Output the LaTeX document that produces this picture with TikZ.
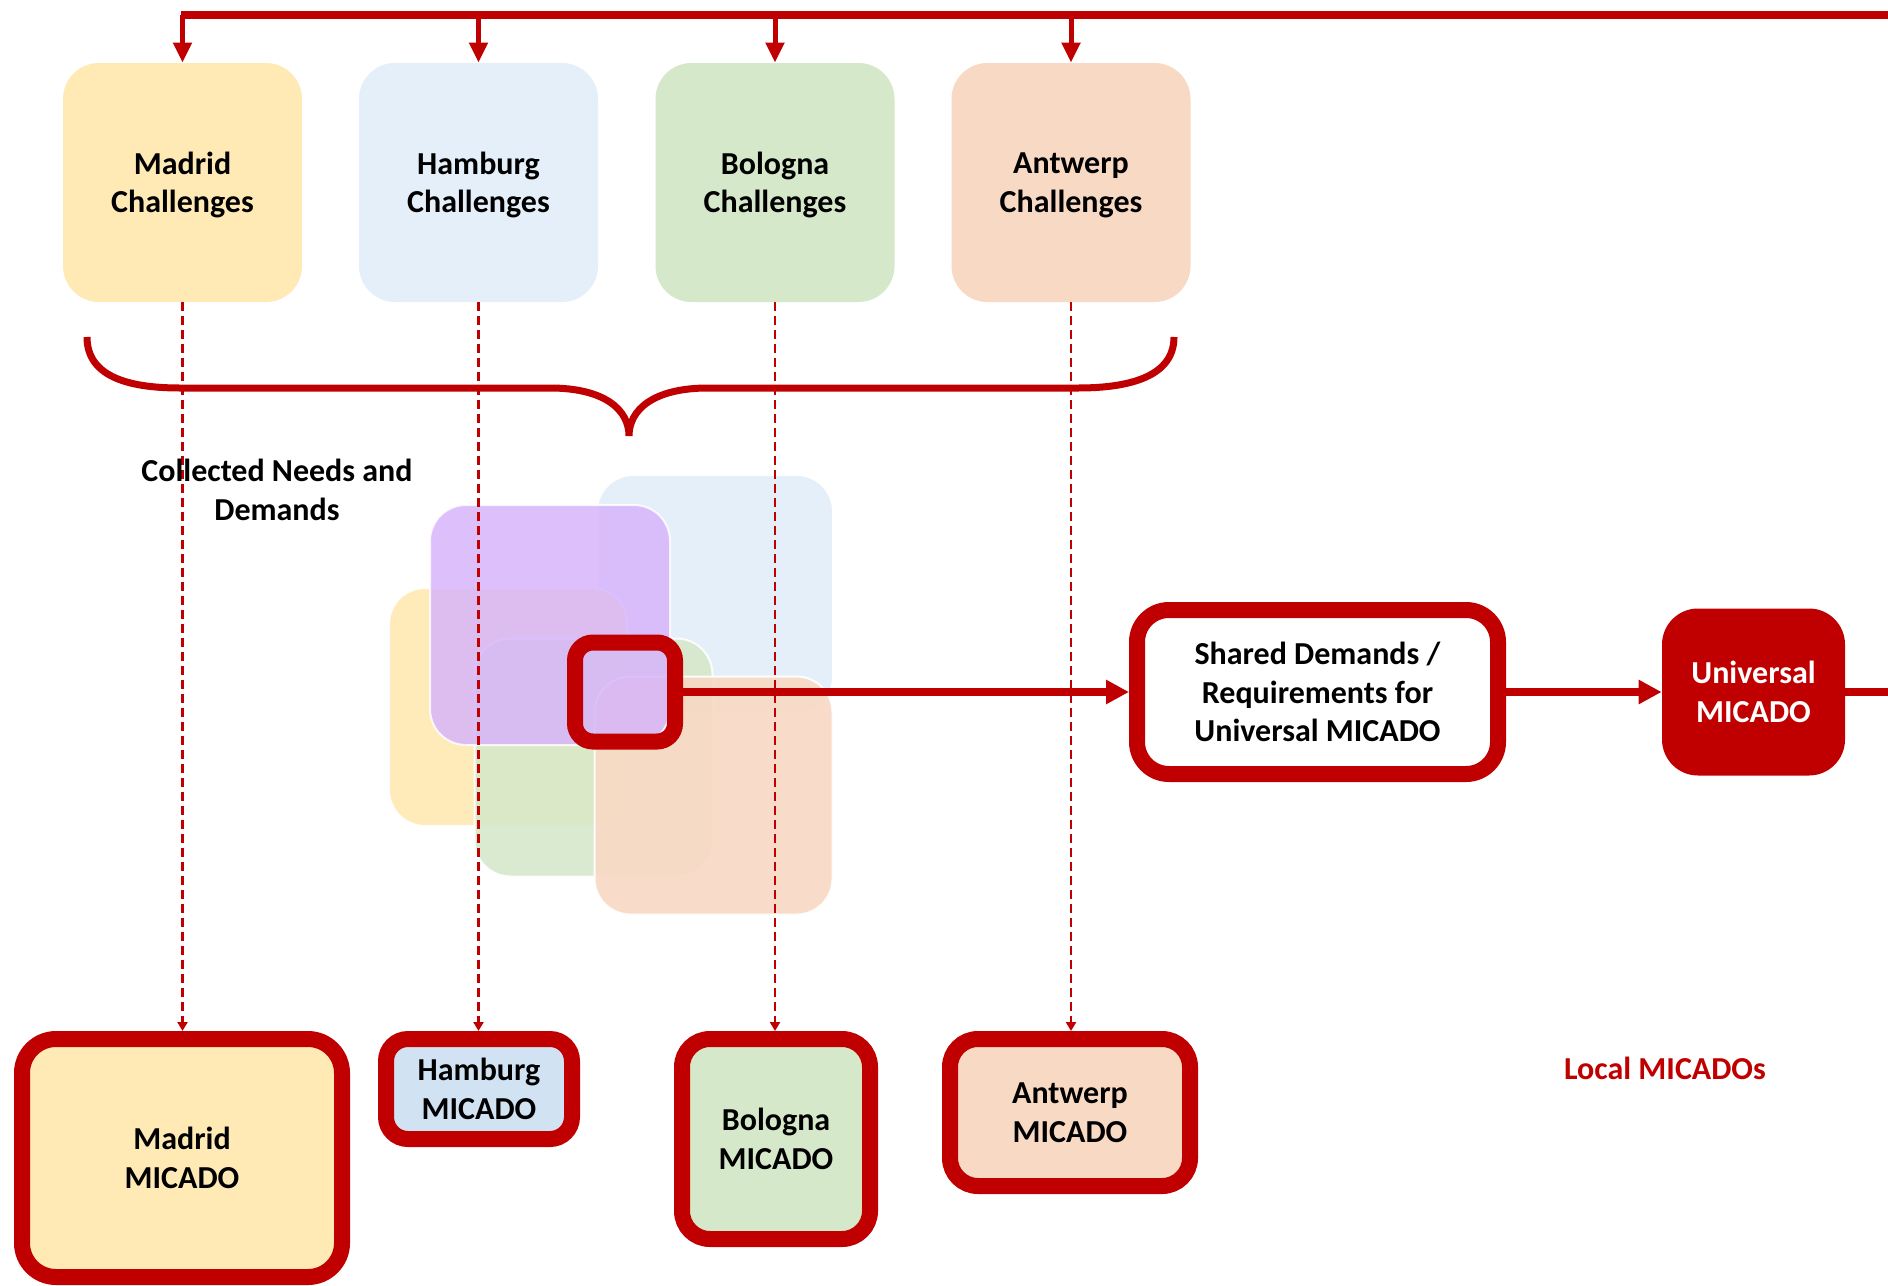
\documentclass[tikz,border=0pt]{standalone}
\usepackage{fontspec}
\setmainfont{Carlito}
\usetikzlibrary{arrows.meta}
\definecolor{mred}{HTML}{C00000}
\definecolor{cyel}{HTML}{FFEAB6}
\definecolor{cblu}{HTML}{E5EFF9}
\definecolor{cgrn}{HTML}{D6E8CA}
\definecolor{corg}{HTML}{F8D9C4}
\definecolor{cpur}{HTML}{D6B3FB}
\definecolor{hblu}{HTML}{D1E3F3}
\begin{document}
\begin{tikzpicture}[x=0.5pt,y=-0.5pt,
  lbl/.style={font=\fontsize{16}{19.25}\selectfont\bfseries, align=center},
  chal/.style={lbl, rounded corners=18pt, minimum width=119.5pt, minimum height=119.5pt, inner sep=0pt, text depth=0pt},
  micado/.style={lbl, draw=mred, line width=8pt, rounded corners=14pt, inner sep=0pt},
  bus/.style={mred, line width=4pt},
  stem/.style={mred, line width=2.5pt, -{Triangle[length=10pt,width=9pt]}},
  dashline/.style={mred, line width=1.25pt, dash pattern=on 4.5pt off 2.5pt, -{Triangle[length=4.5pt,width=5pt]}},
  flow/.style={mred, line width=4pt, -{Triangle[length=11.5pt,width=11.5pt]}},
  sq/.style={draw=white, line width=1pt, rounded corners=18pt, minimum width=119pt, minimum height=119pt, inner sep=0pt},
]
\fill[white] (0,0) rectangle (1888,1285);
\useasboundingbox (0,0) rectangle (1888,1285);

% challenge boxes
\node[chal, fill=cyel] (mc) at (182.5,182.5) {Madrid\\Challenges};
\node[chal, fill=cblu] (hc) at (478.5,182.5) {Hamburg\\Challenges};
\node[chal, fill=cgrn] (bc) at (775,182.5) {Bologna\\Challenges};
\node[chal, fill=corg] (ac) at (1071,182.5) {Antwerp\\Challenges};

% bus at top
\coordinate (busR) at (1888,14.5);
\coordinate (b1) at (182.5,14.5);
\coordinate (b2) at (478.5,14.5);
\coordinate (b3) at (775,14.5);
\coordinate (b4) at (1071,14.5);
\draw[bus] (busR) -- ([xshift=-1pt]b1);
\draw[stem] (b1) -- (mc.north);
\draw[stem] (b2) -- (hc.north);
\draw[stem] (b3) -- (bc.north);
\draw[stem] (b4) -- (ac.north);

% brace
\draw[mred, line width=3.5pt] (87,337) .. controls (87,375) and (125,388) .. (180,388) -- (550,388)
  .. controls (605,388) and (629,410) .. (629,436)
  .. controls (629,410) and (653,388) .. (708,388) -- (1078,388)
  .. controls (1133,388) and (1174,375) .. (1174,337);

% overlapping squares
\node[sq, fill=cblu, minimum width=118pt] (sqb) at (715,594) {};
\node[sq, fill=cyel, opacity=0.95] (sqy) at (508,707) {};
\node[sq, fill=cgrn, opacity=0.88] (sqg) at (593.5,757.5) {};
\node[sq, fill=corg, opacity=0.9] (sqo) at (713.5,795.5) {};
\node[sq, fill=cpur, opacity=0.82, minimum width=120pt, minimum height=120pt] (sqp) at (550,625) {};

% core square
\node[draw=mred, line width=8pt, rounded corners=9pt, minimum width=50pt, minimum height=49.5pt, inner sep=0pt] (core) at (625,692) {};

% shared and universal
\node[lbl, draw=mred, fill=white, line width=8pt, rounded corners=16pt, minimum width=180.5pt, minimum height=82pt, inner sep=0pt] (shared) at (1317.5,692) {Shared Demands /\\Requirements for\\Universal MICADO};
\node[lbl, fill=mred, text=white, rounded corners=18pt, minimum width=91.5pt, minimum height=83.5pt, inner sep=0pt] (univ) at (1753.5,692) {Universal\\MICADO};
\coordinate (exitR) at (1888,692);
\draw[flow] (core) -- (shared);
\draw[flow] (shared) -- (univ);
\draw[mred, line width=4pt] (univ.east) -- (exitR);

% micado boxes
\node[micado, fill=cyel, minimum width=160pt, minimum height=119pt, rounded corners=17pt] (mm) at (182,1158) {Madrid\\MICADO};
\node[micado, fill=hblu, minimum width=93pt, minimum height=50pt, rounded corners=11pt] (hm) at (479,1089) {Hamburg\\MICADO};
\node[micado, fill=cgrn, minimum width=94pt, minimum height=100pt] (bm) at (776,1139) {Bologna\\MICADO};
\node[micado, fill=corg, minimum width=120pt, minimum height=73.5pt] (am) at (1070,1112.5) {Antwerp\\MICADO};

% dashed connectors
\draw[dashline] (mc.south) -- (mc.south |- mm.north);
\draw[dashline] (hc.south) -- (hc.south |- hm.north);
\draw[dashline] (bc.south) -- (bc.south |- bm.north);
\draw[dashline] (ac.south) -- (ac.south |- am.north);

% labels
\node[lbl] (coll) at (277,490) {Collected Needs and\\Demands};
\node[lbl, text=mred] (local) at (1665,1068) {Local MICADOs};
\end{tikzpicture}
\end{document}
